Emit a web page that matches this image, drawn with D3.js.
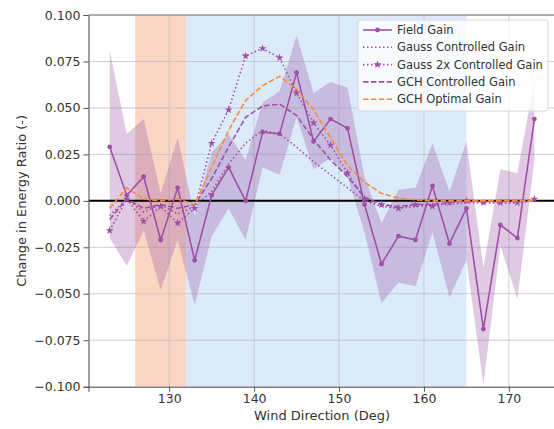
<!DOCTYPE html>
<html>
<head>
<meta charset="utf-8">
<script src="https://cdn.jsdelivr.net/npm/d3@7"></script>
<style>
  body { margin: 0; background: #fff; }
  text { font-family: "DejaVu Sans", sans-serif; fill: #333; }
</style>
</head>
<body>
<div class="wrapper"></div>
<script>
// wind directions (deg)
const directions = [123, 125, 127, 129, 131, 133, 135, 137, 139, 141, 143, 145, 147,
  149, 151, 153, 155, 157, 159, 161, 163, 165, 167, 169, 171, 173];

const fieldGain = [0.029, 0.003, 0.013, -0.021, 0.007, -0.032, 0.003, 0.018, 0.000, 0.037,
  0.036, 0.069, 0.032, 0.044, 0.039, -0.002, -0.034, -0.019, -0.021, 0.008, -0.023, -0.004,
  -0.069, -0.013, -0.020, 0.044];
const fieldUpper = [0.081, 0.036, 0.044, 0.004, 0.034, -0.008, 0.026, 0.036, 0.022, 0.053,
  0.059, 0.089, 0.058, 0.064, 0.061, 0.013, -0.012, 0.006, 0.007, 0.031, 0.005, 0.032,
  -0.036, 0.017, 0.015, 0.065];
const fieldLower = [-0.020, -0.035, -0.016, -0.048, -0.021, -0.056, -0.019, -0.004, -0.021,
  0.018, 0.014, 0.045, 0.017, 0.023, 0.013, -0.017, -0.055, -0.044, -0.046, -0.017, -0.052,
  -0.032, -0.099, -0.024, -0.053, 0.022];

const gaussCtrl = [-0.008, 0.001, -0.006, -0.002, -0.007, -0.003, 0.005, 0.020, 0.031, 0.038,
  0.036, 0.029, 0.021, 0.014, 0.007, 0.000, -0.003, -0.004, -0.003, -0.002, -0.002, -0.001,
  -0.001, -0.001, -0.001, 0.000];
const gauss2x = [-0.016, 0.001, -0.011, -0.003, -0.012, -0.004, 0.031, 0.049, 0.078, 0.082,
  0.077, 0.058, 0.042, 0.030, 0.015, 0.001, -0.002, -0.004, -0.002, -0.003, -0.001, 0.000,
  -0.001, -0.001, -0.001, 0.001];
const gchCtrl = [-0.010, 0.001, -0.004, -0.002, -0.004, -0.002, 0.012, 0.029, 0.045, 0.051,
  0.052, 0.046, 0.033, 0.022, 0.013, 0.002, -0.002, -0.003, -0.002, -0.002, -0.001, 0.000,
  0.000, 0.000, 0.000, 0.000];
const gchOpt = [-0.004, 0.007, 0.001, 0.000, 0.001, -0.002, 0.018, 0.038, 0.054, 0.062,
  0.067, 0.060, 0.049, 0.034, 0.019, 0.010, 0.004, 0.0015, 0.0005, 0.000, 0.000, 0.000,
  0.000, 0.000, 0.000, 0.000];

// shaded direction sectors
const spans = [
  { from: 126, to: 132, color: "#fad6c4" },
  { from: 132, to: 165, color: "#dcebfa" }
];

const xTicks = [130, 140, 150, 160, 170];
const yTicks = [-0.1, -0.075, -0.05, -0.025, 0, 0.025, 0.05, 0.075, 0.1];

const purple = "#a050a6";
const orange = "#f98a3c";

const W = 554, H = 429;
const mLeft = 88.5, mRight = 555.6, mTop = 15, mBottom = 386.7;

const x = d3.scaleLinear().domain([120.5, 175.5]).range([mLeft, mRight]);
const y = d3.scaleLinear().domain([-0.1, 0.1]).range([mBottom, mTop]);

const svg = d3.select(".wrapper").append("svg")
  .attr("width", W)
  .attr("height", H);

svg.append("clipPath").attr("id", "plot")
  .append("rect")
  .attr("x", mLeft).attr("y", mTop)
  .attr("width", mRight - mLeft).attr("height", mBottom - mTop);

const plot = svg.append("g").attr("clip-path", "url(#plot)");

// sectors
plot.selectAll("rect.span")
  .data(spans)
  .enter()
  .append("rect")
  .attr("class", "span")
  .attr("x", d => x(d.from))
  .attr("width", d => x(d.to) - x(d.from))
  .attr("y", mTop)
  .attr("height", mBottom - mTop)
  .style("fill", d => d.color);

// grid
plot.selectAll("line.gy")
  .data(yTicks)
  .enter()
  .append("line")
  .attr("x1", mLeft).attr("x2", mRight)
  .attr("y1", d => y(d)).attr("y2", d => y(d))
  .attr("stroke", "#b8bcc4").attr("stroke-width", 1).attr("opacity", 0.7);

plot.selectAll("line.gx")
  .data(xTicks)
  .enter()
  .append("line")
  .attr("y1", mTop).attr("y2", mBottom)
  .attr("x1", d => x(d)).attr("x2", d => x(d))
  .attr("stroke", "#b8bcc4").attr("stroke-width", 1).attr("opacity", 0.7);

// confidence band of the field gain
const band = d3.area()
  .x((d, i) => x(directions[i]))
  .y0((d, i) => y(fieldLower[i]))
  .y1((d, i) => y(fieldUpper[i]));

plot.append("path")
  .datum(fieldGain)
  .attr("d", band)
  .style("fill", "#984ea3")
  .style("opacity", 0.3);

// zero line
plot.append("line")
  .attr("x1", mLeft).attr("x2", mRight)
  .attr("y1", y(0)).attr("y2", y(0))
  .attr("stroke", "black").attr("stroke-width", 2);

const line = d3.line()
  .x((d, i) => x(directions[i]))
  .y(d => y(d));

const series = [
  { name: "Field Gain", values: fieldGain, color: purple, dash: null, marker: "circle" },
  { name: "Gauss Controlled Gain", values: gaussCtrl, color: purple, dash: "1.5,2.5", marker: null },
  { name: "Gauss 2x Controlled Gain", values: gauss2x, color: purple, dash: "1.5,2.5", marker: "star" },
  { name: "GCH Controlled Gain", values: gchCtrl, color: purple, dash: "5.5,2.4", marker: null },
  { name: "GCH Optimal Gain", values: gchOpt, color: orange, dash: "5.5,2.4", marker: null }
];

const star = d3.symbol().type(d3.symbolStar).size(20);

series.forEach(s => {
  plot.append("path")
    .datum(s.values)
    .attr("d", line)
    .attr("fill", "none")
    .attr("stroke", s.color)
    .attr("stroke-width", 1.6)
    .attr("stroke-dasharray", s.dash);

  if (s.marker === "circle") {
    plot.selectAll(null)
      .data(s.values)
      .enter()
      .append("circle")
      .attr("cx", (d, i) => x(directions[i]))
      .attr("cy", d => y(d))
      .attr("r", 2.4)
      .style("fill", s.color);
  }
  if (s.marker === "star") {
    plot.selectAll(null)
      .data(s.values)
      .enter()
      .append("path")
      .attr("d", star)
      .attr("transform", (d, i) => `translate(${x(directions[i])},${y(d)})`)
      .style("fill", s.color);
  }
});

// axes
const yAxis = svg.append("g")
  .attr("transform", `translate(${mLeft},0)`)
  .call(d3.axisLeft(y).tickValues(yTicks).tickFormat(d3.format(".3f")).tickSize(5).tickPadding(3));

const xAxis = svg.append("g")
  .attr("transform", `translate(0,${mBottom})`)
  .call(d3.axisBottom(x).tickValues(xTicks).tickFormat(d3.format("d")).tickSize(5).tickPadding(2));

[xAxis, yAxis].forEach(a => {
  a.selectAll("text").style("font-size", "12.5px").style("fill", "#333");
  a.selectAll("line").attr("stroke", "#555");
  a.select(".domain").attr("stroke", "#555").attr("stroke-width", 1.1);
});

// top spine
svg.append("line")
  .attr("x1", mLeft).attr("x2", W)
  .attr("y1", mTop).attr("y2", mTop)
  .attr("stroke", "#999").attr("stroke-width", 1.5);

svg.append("text")
  .attr("x", (mLeft + mRight) / 2)
  .attr("y", 420)
  .attr("text-anchor", "middle")
  .style("font-size", "13px")
  .text("Wind Direction (Deg)");

svg.append("text")
  .attr("transform", `translate(26,${(mTop + mBottom) / 2}) rotate(-90)`)
  .attr("text-anchor", "middle")
  .style("font-size", "13px")
  .text("Change in Energy Ratio (-)");

// legend
const legend = svg.append("g").attr("transform", "translate(358,20)");
legend.append("rect")
  .attr("width", 190).attr("height", 91).attr("rx", 3)
  .style("fill", "white").style("fill-opacity", 0.8)
  .attr("stroke", "#d8d8d8");

series.forEach((s, i) => {
  const ly = 10 + i * 17.3;
  legend.append("line")
    .attr("x1", 5).attr("x2", 34)
    .attr("y1", ly).attr("y2", ly)
    .attr("stroke", s.color).attr("stroke-width", 1.6)
    .attr("stroke-dasharray", s.dash);
  if (s.marker === "circle") {
    legend.append("circle").attr("cx", 19.5).attr("cy", ly).attr("r", 2.4).style("fill", s.color);
  }
  if (s.marker === "star") {
    legend.append("path").attr("d", star).attr("transform", `translate(19.5,${ly})`).style("fill", s.color);
  }
  legend.append("text")
    .attr("x", 39)
    .attr("y", ly + 4)
    .style("font-size", "11.5px")
    .text(s.name);
});
</script>
</body>
</html>
